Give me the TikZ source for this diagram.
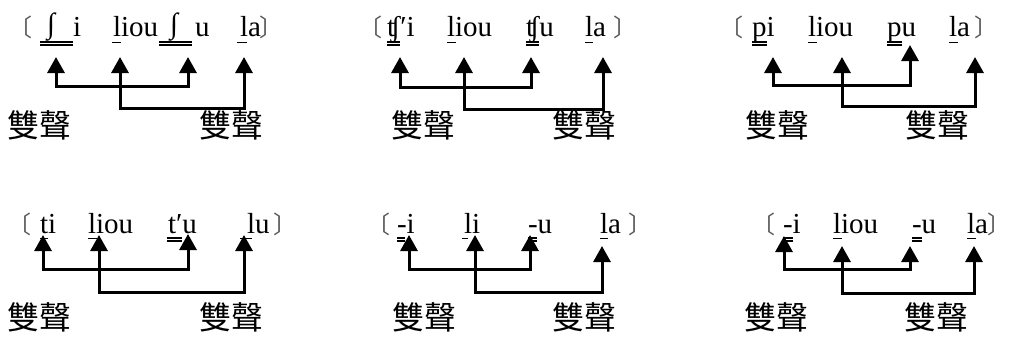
\documentclass[tikz,border=0pt]{standalone}
\usepackage{fontspec}
\setmainfont{Liberation Serif}
\newfontfamily\cjk{Noto Sans CJK TC}
\newfontfamily\cjkhalf[RawFeature={+halt}]{Noto Sans CJK TC}
\usetikzlibrary{arrows.meta}
\tikzset{
  x=1pt, y=-1pt,
  syl/.style={anchor=base west, inner sep=0pt, outer sep=0pt, font=\fontsize{29}{29}\selectfont},
  brk/.style={anchor=base, inner sep=0pt, font=\cjk\fontsize{24}{24}\selectfont, text=black!65},
  rbrk/.style={anchor=base west, inner sep=0pt, font=\cjkhalf\fontsize{24}{24}\selectfont, text=black!65},
  term/.style={anchor=center, inner sep=0pt, font=\cjk\fontsize{32}{32}\selectfont},
  ul/.style={line width=1.4pt},
  link/.style={line width=3pt, line join=miter,
    {Triangle[width=17pt,length=16pt]}-{Triangle[width=17pt,length=16pt]}},
}
% single and double underlines: from x, to x, at y
\newcommand\sline[3]{\draw[ul] (#1,#3) -- (#2,#3);}
\newcommand\dline[3]{\draw[ul] (#1,#3) -- (#2,#3) (#1,#3+2.8) -- (#2,#3+2.8);}
% bracket joining two arrow tips, running #3 below the first tip
\newcommand\bond[3]{\draw[link] (#1) -- ++(0,#3) -| (#2);}
% raised integral-shaped esh
\newcommand\esh{\raisebox{3pt}{∫}}
\begin{document}
\begin{tikzpicture}
\useasboundingbox (0,0) rectangle (1011,338);

% ---------- row 1, group 1 ----------
\node[brk] (b1l) at (21,36) {〔};
\node[syl] (s1a) at (47,36) {\esh};
\node[syl] (s1b) at (73,36) {i};
\node[syl] (s1c) at (113,36) {liou};
\node[syl] (s1d) at (170,36) {\esh};
\node[syl] (s1e) at (195,36) {u};
\node[syl] (s1f) at (240,36) {la};
\node[rbrk] (b1r) at (259,36) {〕};
\dline{40}{73}{42}
\sline{112}{121}{42.5}
\dline{159}{192}{42}
\sline{237}{247}{42.5}
\coordinate (t1a) at (56,57);
\coordinate (t1b) at (120,57);
\coordinate (t1c) at (188,57);
\coordinate (t1d) at (244,57);
\bond{t1a}{t1c}{29}
\bond{t1b}{t1d}{51}
\node[term] (m1a) at (39,125) {雙聲};
\node[term] (m1b) at (231,125) {雙聲};

% ---------- row 1, group 2 ----------
\node[brk] (b2l) at (370,36) {〔};
\node[syl] (s2a) at (387,36) {ʧ′i};
\node[syl] (s2b) at (447,36) {liou};
\node[syl] (s2c) at (526,36) {ʧu};
\node[syl] (s2d) at (585,36) {la};
\node[rbrk] (b2r) at (613,36) {〕};
\dline{387}{400}{42}
\sline{447}{456}{42.5}
\dline{526}{539}{42}
\sline{585}{593}{42.5}
\coordinate (t2a) at (400,57);
\coordinate (t2b) at (464,57);
\coordinate (t2c) at (531,57);
\coordinate (t2d) at (603,57);
\bond{t2a}{t2c}{30}
\bond{t2b}{t2d}{52}
\node[term] (m2a) at (423,125) {雙聲};
\node[term] (m2b) at (584,125) {雙聲};

% ---------- row 1, group 3 ----------
\node[brk] (b3l) at (731,36) {〔};
\node[syl] (s3a) at (752,36) {pi};
\node[syl] (s3b) at (808,36) {liou};
\node[syl] (s3c) at (887,36) {pu};
\node[syl] (s3d) at (949,36) {la};
\node[rbrk] (b3r) at (974,36) {〕};
\dline{752}{767}{42}
\sline{808}{817}{42.5}
\dline{887}{902}{42}
\sline{949}{958}{42.5}
\coordinate (t3a) at (773,57);
\coordinate (t3b) at (842,57);
\coordinate (t3c) at (910,45);
\coordinate (t3d) at (975,57);
\bond{t3a}{t3c}{28}
\bond{t3b}{t3d}{49}
\node[term] (m3a) at (777,125) {雙聲};
\node[term] (m3b) at (937,125) {雙聲};

% ---------- row 2, group 1 ----------
\node[brk] (b4l) at (20,233) {〔};
\node[syl] (s4a) at (40,233) {ti};
\node[syl] (s4b) at (88,233) {liou};
\node[syl] (s4c) at (168,233) {t′u};
\node[syl] (s4d) at (247,233) {lu};
\node[rbrk] (b4r) at (273,233) {〕};
\sline{40}{48}{238.5}
\sline{88}{97}{238.5}
\dline{167}{182}{238}
\sline{240}{252}{238.5}
\coordinate (t4a) at (43,235);
\coordinate (t4b) at (99,235);
\coordinate (t4c) at (188,234);
\coordinate (t4d) at (244,235);
\bond{t4a}{t4c}{34}
\bond{t4b}{t4d}{57}
\node[term] (m4a) at (39,317) {雙聲};
\node[term] (m4b) at (231,317) {雙聲};

% ---------- row 2, group 2 ----------
\node[brk] (b5l) at (378,233) {〔};
\node[syl] (s5a) at (397,233) {-i};
\node[syl] (s5b) at (464,233) {li};
\node[syl] (s5c) at (528,233) {-u};
\node[syl] (s5d) at (600,233) {la};
\node[rbrk] (b5r) at (628,233) {〕};
\dline{397}{405}{238}
\sline{462}{468}{238.5}
\dline{528}{537}{238}
\sline{600}{608}{238.5}
\coordinate (t5a) at (409,235);
\coordinate (t5b) at (475,235);
\coordinate (t5c) at (530,235);
\coordinate (t5d) at (602,246);
\bond{t5a}{t5c}{34}
\bond{t5b}{t5d}{57}
\node[term] (m5a) at (424,317) {雙聲};
\node[term] (m5b) at (584,317) {雙聲};

% ---------- row 2, group 3 ----------
\node[brk] (b6l) at (763,233) {〔};
\node[syl] (s6a) at (783,233) {-i};
\node[syl] (s6b) at (833,233) {liou};
\node[syl] (s6c) at (912,233) {-u};
\node[syl] (s6d) at (967,233) {la};
\node[rbrk] (b6r) at (987,233) {〕};
\dline{783}{793}{238}
\sline{833}{842}{238.5}
\dline{912}{922}{238}
\sline{967}{976}{238.5}
\coordinate (t6a) at (784,236);
\coordinate (t6b) at (842,246);
\coordinate (t6c) at (910,246);
\coordinate (t6d) at (974,246);
\bond{t6a}{t6c}{33}
\bond{t6b}{t6d}{47}
\node[term] (m6a) at (776,317) {雙聲};
\node[term] (m6b) at (936,317) {雙聲};
\end{tikzpicture}
\end{document}
